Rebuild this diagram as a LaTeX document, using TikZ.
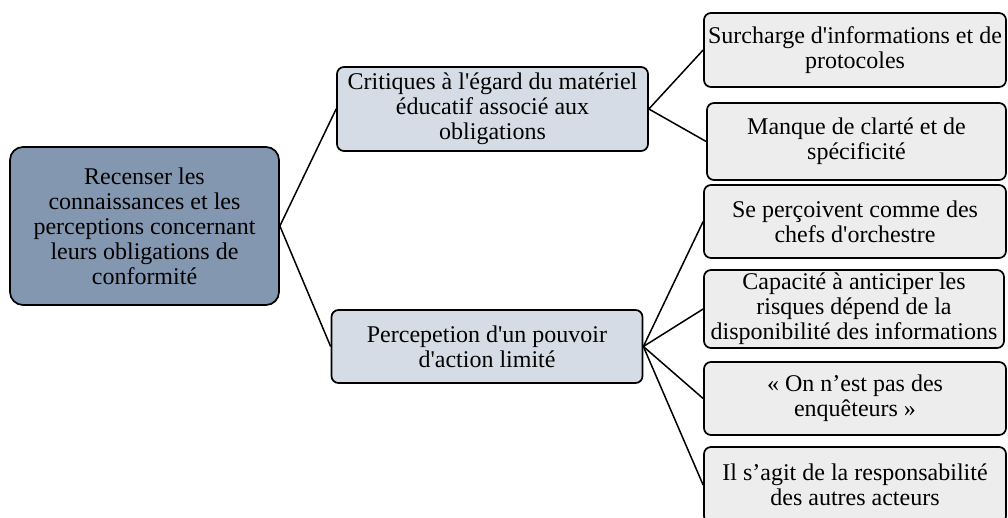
\documentclass[tikz,border=0pt]{standalone}
\usepackage{fontspec}
\setmainfont{Liberation Serif}
\definecolor{rootblue}{HTML}{8497B0}
\definecolor{midblue}{HTML}{D6DCE5}
\definecolor{leafgray}{HTML}{EDEDED}

\begin{document}
\begin{tikzpicture}[x=1pt,y=-1pt,
  box/.style={draw=black,line width=1.7pt,rounded corners=7pt,align=center,inner sep=0pt,
    font=\fontsize{24}{25}\selectfont},
  rootbox/.style={box,fill=rootblue,rounded corners=13pt,minimum width=269pt,minimum height=158pt},
  midbox/.style={box,fill=midblue,minimum width=311pt},
  leafbox/.style={box,fill=leafgray,minimum width=302pt,minimum height=74pt},
  link/.style={line width=1.5pt}]
\useasboundingbox (0,0) rectangle (1008,517);
% left
\node[rootbox] (root) at (144.5,226) {Recenser les\\connaissances et les\\perceptions concernant\\leurs obligations de\\conformit\'e};
% middle
\node[midbox,minimum height=84pt] (crit) at (492.5,109) {Critiques \`a l\textquotesingle \'egard du mat\'eriel\\\'educatif associ\'e aux\\obligations};
\node[midbox,minimum height=73pt] (perc) at (487,346.5) {Percepetion d\textquotesingle un pouvoir\\d\textquotesingle action limit\'e};
% right
\node[leafbox] (surch) at (855,50) {Surcharge d\textquotesingle informations et de\\protocoles};
\node[leafbox,minimum width=299pt,minimum height=77pt] (manque) at (856.5,141.5) {Manque de clart\'e et de\\sp\'ecificit\'e};
\node[leafbox,minimum height=73pt] (chefs) at (855,221.5) {Se per\c{c}oivent comme des\\chefs d\textquotesingle orchestre};
\node[leafbox,minimum width=300pt,minimum height=78pt] (anticip) at (854,309) {Capacit\'e \`a anticiper les\\risques d\'epend de la\\disponibilit\'e des informations};
\node[leafbox,minimum height=73pt] (enquet) at (855,398.5) {« On n’est pas des\\enqu\^eteurs »};
\node[leafbox,minimum height=76pt] (resp) at (855,485) {Il s’agit de la responsabilit\'e\\des autres acteurs};
% links
\foreach \n in {crit,perc}
  \draw[link] (root.east) -- (\n.west);
\foreach \n in {surch,manque}
  \draw[link] (crit.east) -- (\n.west);
\foreach \n in {chefs,anticip,enquet,resp}
  \draw[link] (perc.east) -- (\n.west);
\end{tikzpicture}
\end{document}
